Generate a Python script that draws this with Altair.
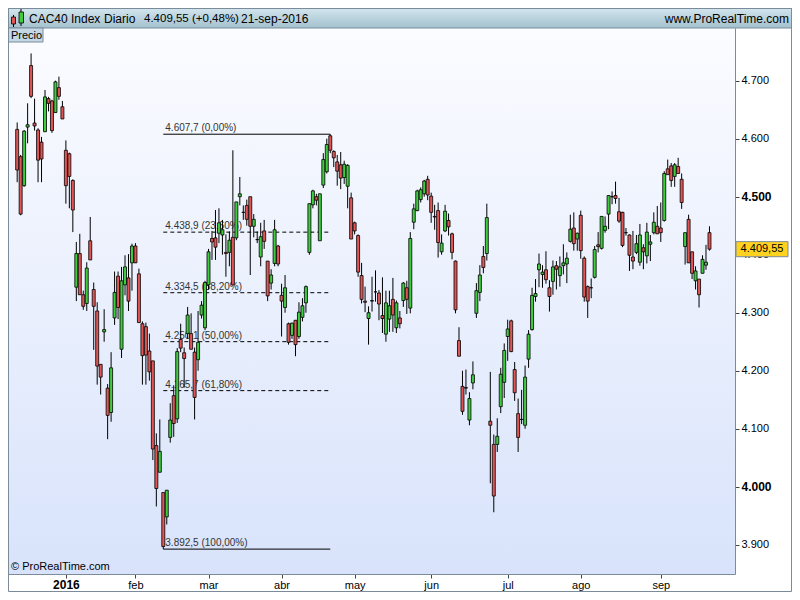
import altair as alt
import pandas as pd

# ---------------- data ----------------
opens = [4616, 4569, 4519, 4620, 4726, 4627, 4615, 4594, 4612, 4669,
         4665, 4645, 4688, 4655, 4580, 4574, 4528, 4344, 4402, 4331,
         4316, 4424, 4340, 4303, 4211, 4267, 4170, 4128, 4291, 4363,
         4237, 4348, 4360, 4386, 4415, 4367, 4281, 4276, 4234, 4217,
         4071, 4025, 3990, 3948, 4085, 4157, 4117, 4254, 4231, 4264,
         4264, 4232, 4219, 4296, 4274, 4348, 4428, 4429, 4437, 4434,
         4404, 4404, 4430, 4429, 4500, 4473, 4485, 4500, 4449, 4426,
         4396, 4441, 4389, 4351, 4385, 4415, 4330, 4309, 4281, 4261,
         4287, 4259, 4292, 4317, 4404, 4486, 4500, 4424, 4520, 4543,
         4605, 4578, 4560, 4555, 4533, 4518, 4498, 4455, 4433, 4364,
         4320, 4290, 4320, 4336, 4334, 4295, 4263, 4289, 4323, 4274,
         4291, 4321, 4343, 4308, 4456, 4476, 4495, 4505, 4530, 4501,
         4466, 4476, 4405, 4441, 4459, 4436, 4389, 4252, 4173, 4171,
         4115, 4179, 4299, 4335, 4397, 4402, 4113, 4073, 4073, 4138,
         4180, 4259, 4286, 4202, 4126, 4116, 4106, 4220, 4271, 4328,
         4374, 4366, 4374, 4343, 4354, 4381, 4364, 4381, 4384, 4423,
         4446, 4427, 4468, 4394, 4345, 4343, 4361, 4417, 4411, 4442,
         4470, 4500, 4502, 4474, 4473, 4438, 4434, 4396, 4404, 4387,
         4412, 4398, 4418, 4438, 4449, 4446, 4459, 4548, 4553, 4535,
         4552, 4530, 4414, 4461, 4405, 4355, 4358, 4368, 4382, 4438]
highs = [4628, 4572, 4615, 4661, 4747, 4669, 4618, 4603, 4684, 4672,
         4667, 4700, 4707, 4665, 4597, 4576, 4530, 4422, 4436, 4338,
         4387, 4465, 4352, 4318, 4211, 4306, 4177, 4232, 4371, 4371,
         4379, 4399, 4401, 4419, 4420, 4376, 4285, 4283, 4264, 4217,
         4092, 4116, 3990, 3994, 4144, 4175, 4239, 4281, 4240, 4310,
         4299, 4240, 4303, 4320, 4355, 4410, 4441, 4477, 4480, 4460,
         4435, 4440, 4580, 4491, 4534, 4485, 4495, 4500, 4470, 4440,
         4455, 4460, 4389, 4375, 4460, 4417, 4350, 4365, 4283, 4283,
         4287, 4318, 4325, 4347, 4488, 4512, 4505, 4505, 4575, 4600,
         4607.7, 4580, 4572, 4577, 4562, 4556, 4507, 4457, 4435, 4386,
         4345, 4311, 4362, 4373, 4339, 4361, 4338, 4338, 4360, 4321,
         4303, 4353, 4355, 4439, 4488, 4512, 4516, 4529, 4536, 4507,
         4486, 4490, 4435, 4486, 4471, 4438, 4390, 4275, 4200, 4202,
         4163, 4216, 4351, 4382, 4415, 4488, 4198, 4090, 4118, 4205,
         4247, 4288, 4288, 4215, 4152, 4167, 4209, 4270, 4343, 4358,
         4402, 4382, 4406, 4356, 4390, 4389, 4397, 4418, 4404, 4469,
         4473, 4438, 4476, 4397, 4347, 4359, 4415, 4439, 4466, 4466,
         4502, 4509, 4526, 4498, 4474, 4446, 4435, 4441, 4434, 4453,
         4418, 4455, 4434, 4473, 4484, 4490, 4544, 4564, 4558, 4558,
         4567, 4540, 4438, 4469, 4405, 4380, 4358, 4399, 4417, 4449]
lows = [4525, 4468, 4517, 4592, 4670, 4614, 4525, 4525, 4612, 4647,
        4610, 4645, 4667, 4634, 4488, 4480, 4439, 4320, 4331, 4305,
        4303, 4391, 4236, 4176, 4159, 4250, 4082, 4112, 4279, 4289,
        4222, 4330, 4303, 4338, 4386, 4283, 4176, 4176, 4183, 4046,
        3966, 4025, 3892.5, 3935, 4076, 4086, 4110, 4232, 4171, 4255,
        4237, 4116, 4200, 4290, 4270, 4340, 4391, 4391, 4420, 4400,
        4362, 4380, 4348, 4425, 4485, 4460, 4450, 4365, 4430, 4420,
        4380, 4410, 4320, 4340, 4380, 4380, 4259, 4300, 4245, 4255,
        4225, 4255, 4285, 4300, 4400, 4480, 4485, 4424, 4515, 4540,
        4575, 4551, 4519, 4513, 4522, 4480, 4427, 4435, 4362, 4316,
        4301, 4245, 4302, 4319, 4287, 4265, 4250, 4267, 4267, 4265,
        4273, 4310, 4298, 4299, 4444, 4475, 4490, 4500, 4494, 4455,
        4443, 4395, 4400, 4439, 4433, 4392, 4299, 4225, 4124, 4159,
        4106, 4168, 4291, 4320, 4368, 4390, 4006, 3956, 4060, 4127,
        4153, 4217, 4232, 4148, 4060, 4108, 4100, 4205, 4269, 4319,
        4344, 4343, 4350, 4302, 4331, 4340, 4345, 4366, 4351, 4421,
        4407, 4407, 4393, 4319, 4291, 4325, 4359, 4404, 4409, 4438,
        4444, 4487, 4488, 4455, 4413, 4433, 4372, 4375, 4401, 4381,
        4375, 4385, 4389, 4435, 4436, 4422, 4457, 4538, 4517, 4517,
        4540, 4479, 4383, 4386, 4358, 4340, 4309, 4368, 4374, 4407]
closes = [4546, 4470, 4613, 4624, 4673, 4622, 4563, 4565, 4672, 4661,
          4614, 4698, 4673, 4634, 4519, 4535, 4477, 4402, 4331, 4311,
          4377, 4391, 4311, 4208, 4189, 4271, 4123, 4205, 4335, 4309,
          4355, 4379, 4320, 4415, 4386, 4283, 4226, 4227, 4198, 4065,
          3997, 4061, 3897, 3994, 4115, 4109, 4233, 4239, 4221, 4296,
          4237, 4154, 4249, 4313, 4352, 4405, 4422, 4413, 4455, 4443,
          4402, 4425, 4348, 4491, 4505, 4473, 4461, 4449, 4461, 4426,
          4431, 4423, 4329, 4365, 4443, 4384, 4320, 4343, 4249, 4282,
          4245, 4301, 4312, 4345, 4488, 4510, 4494, 4505, 4564, 4590,
          4580, 4567, 4544, 4532, 4556, 4554, 4427, 4441, 4370, 4323,
          4318, 4300, 4321, 4336, 4315, 4290, 4317, 4312, 4296, 4317,
          4281, 4351, 4323, 4428, 4479, 4510, 4512, 4527, 4503, 4473,
          4465, 4421, 4420, 4475, 4448, 4404, 4305, 4225, 4130, 4170,
          4152, 4193, 4338, 4365, 4378, 4464, 4106, 3984, 4087, 4194,
          4235, 4272, 4233, 4162, 4085, 4116, 4189, 4263, 4330, 4333,
          4384, 4370, 4357, 4328, 4379, 4375, 4379, 4386, 4394, 4444,
          4419, 4437, 4407, 4327, 4320, 4343, 4409, 4414, 4466, 4449,
          4502, 4500, 4497, 4458, 4416, 4438, 4399, 4389, 4419, 4434,
          4405, 4439, 4422, 4456, 4436, 4438, 4540, 4538, 4528, 4555,
          4540, 4490, 4438, 4386, 4368, 4372, 4331, 4392, 4387, 4409.55]

month_idx = [14, 34, 55, 76, 97, 119, 141, 162, 185]
month_lbl = ["2016", "feb", "mar", "abr", "may", "jun", "jul", "ago", "sep"]
y_ticks = [3900, 4000, 4100, 4200, 4300, 4400, 4500, 4600, 4700]

fib_levels = [4607.7, 4438.9, 4334.5, 4250.1, 4165.7, 3892.5]
fib_labels = ["4.607,7 (0,00%)", "4.438,9 (23,60%)", "4.334,5 (38,20%)",
              "4.250,1 (50,00%)", "4.165,7 (61,80%)", "3.892,5 (100,00%)"]
fib_dashed = [False, True, True, True, True, False]
fib_start, fib_end = 42, 90

last_price = closes[-1]

# ---------------- tables ----------------
df = pd.DataFrame({"i": list(range(len(opens))), "open": opens, "high": highs,
                   "low": lows, "close": closes})
df["dir"] = ["up" if c >= o else "down" for o, c in zip(opens, closes)]

fib_df = pd.DataFrame({"i": [fib_start] * len(fib_levels),
                       "i2": [fib_end] * len(fib_levels),
                       "low": fib_levels, "label": fib_labels,
                       "dashed": fib_dashed})

one = pd.DataFrame({"k": [0]})
box_df = pd.DataFrame({"low": [last_price]})

# ---------------- layout ----------------
W, H = 727, 546
TOTAL_W = 784
FONT = "Liberation Sans"
GRAY = "#7b8b99"

xs = alt.Scale(domain=[-1.2, 204.9], nice=False, zero=False)
ys = alt.Scale(domain=[3849.6, 4790.8], nice=False, zero=False)

x_label_expr = " : ".join(
    f"datum.value == {v} ? '{l}'" for v, l in zip(month_idx, month_lbl)) + " : ''"

x_axis = alt.Axis(values=month_idx, labelExpr=x_label_expr, title=None, grid=False,
                  orient="bottom", tickSize=4, tickColor="#444", domainColor=GRAY,
                  labelColor="#000", labelFont=FONT, labelPadding=1,
                  labelFontSize={"condition": {"test": "datum.value == 14", "value": 12}, "value": 11},
                  labelFontWeight={"condition": {"test": "datum.value == 14", "value": "bold"}, "value": "normal"})
y_axis = alt.Axis(values=y_ticks, orient="right", title=None, grid=False, tickSize=4,
                  tickColor="#444", domainColor=GRAY, labelColor="#000", labelFont=FONT,
                  labelPadding=2,
                  labelExpr="replace(format(datum.value, ','), ',', '.')",
                  labelFontSize={"condition": {"test": "datum.value == 4500 || datum.value == 4000", "value": 12}, "value": 11},
                  labelFontWeight={"condition": {"test": "datum.value == 4500 || datum.value == 4000", "value": "bold"}, "value": "normal"})


def X(field="i"):
    return alt.X(f"{field}:Q", scale=xs, axis=x_axis)


def Y(field="low"):
    return alt.Y(f"{field}:Q", scale=ys, axis=y_axis)


plot_grad = alt.LinearGradient(gradient="linear", x1=0, x2=0, y1=0, y2=1,
                               stops=[alt.GradientStop(color="#fbfcff", offset=0),
                                      alt.GradientStop(color="#d8e3fb", offset=1)])
head_grad = alt.LinearGradient(gradient="linear", x1=0, x2=0, y1=0, y2=1,
                               stops=[alt.GradientStop(color="#d3e6ee", offset=0),
                                      alt.GradientStop(color="#a3c1ce", offset=1)])

bg = alt.Chart(one).mark_rect(fill=plot_grad).encode(
    x=alt.value(0), x2=alt.value(W), y=alt.value(0), y2=alt.value(H))

fib_solid = alt.Chart(fib_df[~fib_df["dashed"]]).mark_rule(color="#000", strokeWidth=1).encode(
    x=X(), x2="i2:Q", y=Y())
fib_dash = alt.Chart(fib_df[fib_df["dashed"]]).mark_rule(color="#000", strokeWidth=1,
                                                         strokeDash=[4, 3]).encode(
    x=X(), x2="i2:Q", y=Y())
fib_text = alt.Chart(fib_df).mark_text(align="left", baseline="alphabetic", dx=2, dy=-3,
                                       fontSize=10, font=FONT, color="#333").encode(
    x=X(), y=Y(), text="label:N")

wicks = alt.Chart(df).mark_rule(color="#000", strokeWidth=1).encode(
    x=X(), y=Y(), y2="high:Q")
bodies = alt.Chart(df).mark_bar(
    width=3, stroke="#000", strokeWidth=0.8).encode(
    x=X(), y=alt.Y("open:Q", scale=ys, axis=y_axis), y2="close:Q",
    fill=alt.Fill("dir:N", scale=alt.Scale(domain=["up", "down"],
                                           range=["#3fcc3f", "#e05656"]), legend=None))

# header bar
header = alt.Chart(one).mark_rect(fill=head_grad, stroke=GRAY, strokeWidth=1).encode(
    x=alt.value(0), x2=alt.value(TOTAL_W), y=alt.value(-20), y2=alt.value(0))
icon_wick_r = alt.Chart(one).mark_rule(color="#000").encode(
    x=alt.value(5.5), y=alt.value(-13), y2=alt.value(-1))
icon_body_r = alt.Chart(one).mark_rect(fill="#e05656", stroke="#000", strokeWidth=0.8).encode(
    x=alt.value(3.5), x2=alt.value(7.5), y=alt.value(-11), y2=alt.value(-4))
icon_wick_g = alt.Chart(one).mark_rule(color="#000").encode(
    x=alt.value(13), y=alt.value(-19), y2=alt.value(-2))
icon_body_g = alt.Chart(one).mark_rect(fill="#3fcc3f", stroke="#000", strokeWidth=0.8).encode(
    x=alt.value(11), x2=alt.value(15.5), y=alt.value(-16), y2=alt.value(-5))


def head_text(txt, xpos, align="left", size=12):
    return alt.Chart(one).mark_text(text=txt, align=align, baseline="middle", fontSize=size,
                                    font=FONT, color="#000").encode(
        x=alt.value(xpos), y=alt.value(-9.5))


t1 = head_text("CAC40 Index", 21)
t2 = head_text("Diario", 96)
t3 = head_text("4.409,55 (+0,48%)", 136, size=11.5)
t4 = head_text("21-sep-2016", 233)
t5 = head_text("www.ProRealTime.com", 781, align="right")

precio_box = alt.Chart(one).mark_rect(fill="#c3d8e4", stroke=GRAY, strokeWidth=1).encode(
    x=alt.value(0.5), x2=alt.value(35), y=alt.value(0), y2=alt.value(14))
precio_txt = alt.Chart(one).mark_text(text="Precio", align="left", baseline="middle",
                                      fontSize=11, font=FONT, color="#000").encode(
    x=alt.value(3), y=alt.value(7.5))

copy_txt = alt.Chart(one).mark_text(text="© ProRealTime.com", align="left", baseline="middle",
                                    fontSize=11, font=FONT, color="#000").encode(
    x=alt.value(3), y=alt.value(539))

price_box = alt.Chart(box_df).transform_calculate(
    top="datum.low + 13", bot="datum.low - 13").mark_rect(
    fill="#ffd21f", stroke=GRAY, strokeWidth=1).encode(
    x=alt.value(W + 1), x2=alt.value(W + 53),
    y=alt.Y("top:Q", scale=ys, axis=y_axis), y2="bot:Q")
price_txt = alt.Chart(box_df).transform_calculate(
    lbl="replace(replace(replace(format(datum.low, ',.2f'), ',', '#'), '.', ','), '#', '.')"
).mark_text(align="center", baseline="middle", fontSize=11, font=FONT, color="#000").encode(
    x=alt.value(W + 27), y=Y(), text="lbl:N")

frame = alt.Chart(one).mark_rect(fillOpacity=0, stroke=GRAY, strokeWidth=1).encode(
    x=alt.value(0.5), x2=alt.value(TOTAL_W - 0.5), y=alt.value(-19.5), y2=alt.value(H + 17.5))

chart = alt.layer(
    bg, fib_solid, fib_dash, fib_text, wicks, bodies,
    header, icon_wick_r, icon_body_r, icon_wick_g, icon_body_g, t1, t2, t3, t4, t5,
    precio_box, precio_txt, copy_txt, price_box, price_txt, frame
).properties(
    width=W, height=H,
    autosize=alt.AutoSizeParams(type="none"),
    padding={"left": 0, "top": 20, "right": 57, "bottom": 18},
    background="white"
).configure_view(strokeWidth=0)

chart.save("out.html", embed_options={"renderer": "svg", "actions": False})
